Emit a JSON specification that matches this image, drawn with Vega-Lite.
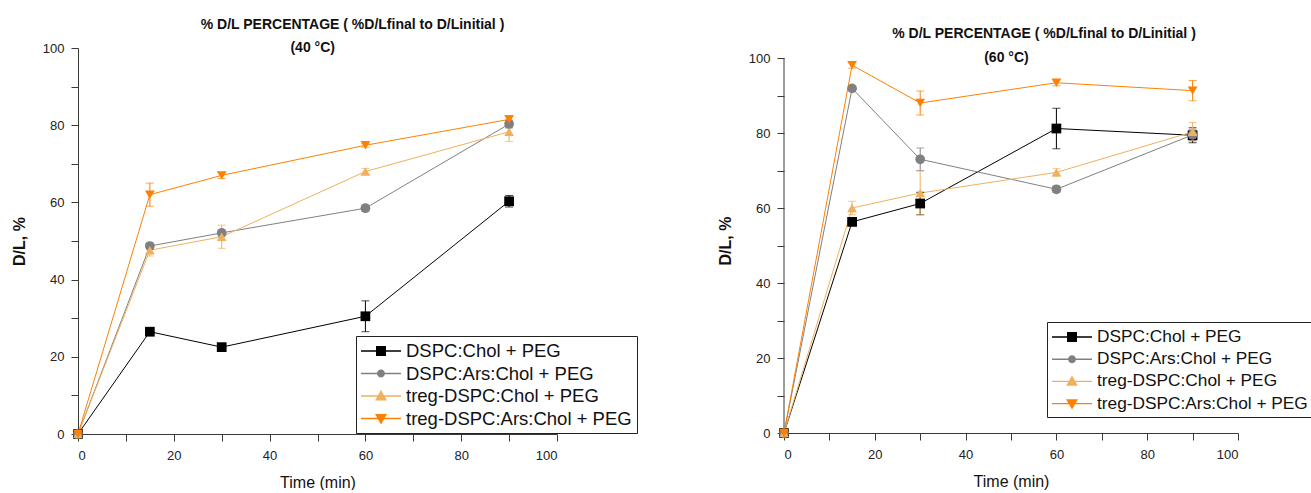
{
  "$schema": "https://vega.github.io/schema/vega-lite/v6.json",
  "padding": {"left": 11, "top": 18, "right": 0, "bottom": 0},
  "config": {
    "view": {"stroke": null},
    "font": "Liberation Sans",
    "axis": {
      "grid": false,
      "domainColor": "#3a3a3a",
      "tickColor": "#3a3a3a",
      "tickSize": 7,
      "labelPadding": 7,
      "labelFont": "Liberation Sans",
      "labelFontSize": 13,
      "labelColor": "#222",
      "titleFont": "Liberation Sans",
      "titleFontSize": 16,
      "titleFontWeight": "normal",
      "titleColor": "#111"
    },
    "legend": {
      "orient": "none",
      "title": null,
      "strokeColor": "#222",
      "fillColor": "white",
      "padding": 5,
      "labelFont": "Liberation Sans",
      "labelFontSize": 18,
      "labelColor": "#111",
      "labelLimit": 0,
      "symbolSize": 400,
      "symbolStrokeWidth": 0,
      "symbolOffset": 10,
      "labelOffset": 15,
      "rowPadding": 2.5
    },
    "title": {"font": "Liberation Sans", "fontSize": 14, "fontWeight": "bold", "color": "#111"}
  },
  "datasets": {
    "d40": [
      {"series": "DSPC:Chol + PEG", "t": 0, "v": 0, "err": null},
      {"series": "DSPC:Chol + PEG", "t": 15, "v": 26.5, "err": 1},
      {"series": "DSPC:Chol + PEG", "t": 30, "v": 22.5, "err": null},
      {"series": "DSPC:Chol + PEG", "t": 60, "v": 30.5, "err": 4},
      {"series": "DSPC:Chol + PEG", "t": 90, "v": 60.3, "err": 1.5},
      {"series": "DSPC:Ars:Chol + PEG", "t": 0, "v": 0, "err": null},
      {"series": "DSPC:Ars:Chol + PEG", "t": 15, "v": 48.7, "err": 0.8},
      {"series": "DSPC:Ars:Chol + PEG", "t": 30, "v": 52.1, "err": 0.8},
      {"series": "DSPC:Ars:Chol + PEG", "t": 60, "v": 58.5, "err": 0.8},
      {"series": "DSPC:Ars:Chol + PEG", "t": 90, "v": 80.3, "err": 1},
      {"series": "treg-DSPC:Chol + PEG", "t": 0, "v": 0, "err": null},
      {"series": "treg-DSPC:Chol + PEG", "t": 15, "v": 47.6, "err": 1.5},
      {"series": "treg-DSPC:Chol + PEG", "t": 30, "v": 51.1, "err": 3},
      {"series": "treg-DSPC:Chol + PEG", "t": 60, "v": 68, "err": 0.8},
      {"series": "treg-DSPC:Chol + PEG", "t": 90, "v": 78.3, "err": 2.5},
      {"series": "treg-DSPC:Ars:Chol + PEG", "t": 0, "v": 0, "err": null},
      {"series": "treg-DSPC:Ars:Chol + PEG", "t": 15, "v": 62, "err": 3},
      {"series": "treg-DSPC:Ars:Chol + PEG", "t": 30, "v": 67, "err": 0.8},
      {"series": "treg-DSPC:Ars:Chol + PEG", "t": 60, "v": 74.8, "err": 0.5},
      {"series": "treg-DSPC:Ars:Chol + PEG", "t": 90, "v": 81.5, "err": 1}
    ],
    "d60": [
      {"series": "DSPC:Chol + PEG", "t": 0, "v": 0, "err": null},
      {"series": "DSPC:Chol + PEG", "t": 15, "v": 56.3, "err": 1},
      {"series": "DSPC:Chol + PEG", "t": 30, "v": 61.2, "err": 3},
      {"series": "DSPC:Chol + PEG", "t": 60, "v": 81.2, "err": 5.4},
      {"series": "DSPC:Chol + PEG", "t": 90, "v": 79.4, "err": 2},
      {"series": "DSPC:Ars:Chol + PEG", "t": 0, "v": 0, "err": null},
      {"series": "DSPC:Ars:Chol + PEG", "t": 15, "v": 91.9, "err": null},
      {"series": "DSPC:Ars:Chol + PEG", "t": 30, "v": 73, "err": 3},
      {"series": "DSPC:Ars:Chol + PEG", "t": 60, "v": 65, "err": 0.8},
      {"series": "DSPC:Ars:Chol + PEG", "t": 90, "v": 79.5, "err": 1.5},
      {"series": "treg-DSPC:Chol + PEG", "t": 0, "v": 0, "err": null},
      {"series": "treg-DSPC:Chol + PEG", "t": 15, "v": 60, "err": 1.8},
      {"series": "treg-DSPC:Chol + PEG", "t": 30, "v": 64, "err": 5.8},
      {"series": "treg-DSPC:Chol + PEG", "t": 60, "v": 69.5, "err": 1},
      {"series": "treg-DSPC:Chol + PEG", "t": 90, "v": 80.3, "err": 2.5},
      {"series": "treg-DSPC:Ars:Chol + PEG", "t": 0, "v": 0, "err": null},
      {"series": "treg-DSPC:Ars:Chol + PEG", "t": 15, "v": 98.1, "err": 0.8},
      {"series": "treg-DSPC:Ars:Chol + PEG", "t": 30, "v": 88, "err": 3.2},
      {"series": "treg-DSPC:Ars:Chol + PEG", "t": 60, "v": 93.4, "err": 0.8},
      {"series": "treg-DSPC:Ars:Chol + PEG", "t": 90, "v": 91.3, "err": 2.7}
    ]
  },
  "resolve": {
    "scale": {"color": "independent", "shape": "independent"},
    "legend": {"color": "independent", "shape": "independent"}
  },
  "spacing": 79,
  "hconcat": [
    {
      "width": 479,
      "height": 386,
      "data": {"name": "d40"},
      "title": {"text": "% D/L PERCENTAGE ( %D/Lfinal to D/Linitial )", "dx": 35, "offset": 9},
      "resolve": {"scale": {"color": "independent", "shape": "independent"}},
      "encoding": {
        "x": {"field": "t", "type": "quantitative", "scale": {"domain": [0, 100], "nice": false},
          "axis": {"title": "Time (min)", "labelPadding": 8, "values": [0, 10, 20, 30, 40, 50, 60, 70, 80, 90, 100], "labelExpr": "datum.value % 20 === 0 ? datum.label : ''", "titlePadding": 12}},
        "y": {"field": "v", "type": "quantitative", "scale": {"domain": [0, 100], "nice": false},
          "axis": {"title": "D/L, %", "titleFontWeight": "bold", "values": [0, 10, 20, 30, 40, 50, 60, 70, 80, 90, 100], "labelExpr": "datum.value % 20 === 0 ? datum.label : ''", "titlePadding": 15}}
      },
      "layer": [
        {
          "mark": {"type": "line", "strokeWidth": 1},
          "encoding": {
            "color": {"field": "series", "type": "nominal", "legend": null,
              "scale": {"domain": ["DSPC:Chol + PEG", "DSPC:Ars:Chol + PEG", "treg-DSPC:Chol + PEG", "treg-DSPC:Ars:Chol + PEG"], "range": ["#000000", "#808080", "#f0b05e", "#ff8000"]}}
          }
        },
        {
          "transform": [{"filter": "datum.err > 0"}],
          "mark": {"type": "errorbar", "ticks": {"size": 8, "thickness": 1}, "rule": {"strokeWidth": 1}},
          "encoding": {
            "yError": {"field": "err"},
            "color": {"field": "series", "type": "nominal", "legend": null,
              "scale": {"domain": ["DSPC:Chol + PEG", "DSPC:Ars:Chol + PEG", "treg-DSPC:Chol + PEG", "treg-DSPC:Ars:Chol + PEG"], "range": ["#000000", "#808080", "#f0b05e", "#ff8000"]}}
          }
        },
        {
          "mark": {"type": "point", "filled": true, "opacity": 1, "size": 95},
          "encoding": {
            "color": {"field": "series", "type": "nominal", "legend": null,
              "scale": {"domain": ["DSPC:Chol + PEG", "DSPC:Ars:Chol + PEG", "treg-DSPC:Chol + PEG", "treg-DSPC:Ars:Chol + PEG"], "range": ["#000000", "#808080", "#f0b05e", "#ff8000"]}},
            "shape": {"field": "series", "type": "nominal", "legend": null,
              "scale": {"domain": ["DSPC:Chol + PEG", "DSPC:Ars:Chol + PEG", "treg-DSPC:Chol + PEG", "treg-DSPC:Ars:Chol + PEG"], "range": ["square", "circle", "triangle-up", "triangle-down"]}}
          }
        },
        {
          "transform": [{"filter": "false"}],
          "mark": {"type": "point", "filled": true, "opacity": 1},
          "encoding": {
            "color": {"field": "series", "type": "nominal",
              "legend": {"legendX": 278, "legendY": 288, "labelFontSize": 18.5},
              "scale": {"domain": ["DSPC:Chol + PEG", "DSPC:Ars:Chol + PEG", "treg-DSPC:Chol + PEG", "treg-DSPC:Ars:Chol + PEG"], "range": ["#000000", "#808080", "#f0b05e", "#ff8000"]}},
            "shape": {"field": "series", "type": "nominal",
              "legend": {"legendX": 278, "legendY": 288, "labelFontSize": 18.5},
              "scale": {"domain": ["DSPC:Chol + PEG", "DSPC:Ars:Chol + PEG", "treg-DSPC:Chol + PEG", "treg-DSPC:Ars:Chol + PEG"],
                "range": ["M-2,-0.07H2V0.07H-2ZM-0.5,-0.5H0.5V0.5H-0.5Z", "M-2,-0.07H2V0.07H-2ZM-0.4,0A0.4,0.4,0,1,1,0.4,0A0.4,0.4,0,1,1,-0.4,0Z", "M-2,-0.07H2V0.07H-2ZM0,-0.6L0.6,0.44H-0.6Z", "M-2,-0.07H2V0.07H-2ZM0,0.6L-0.6,-0.44H0.6Z"]}}
          }
        },
        {
          "transform": [{"filter": "datum.t === 0 && datum.series === 'DSPC:Chol + PEG'"}],
          "mark": {"type": "text", "fontWeight": "bold", "fontSize": 14, "font": "Liberation Sans", "baseline": "middle", "color": "#111"},
          "encoding": {"x": {"datum": 49}, "y": {"datum": 100}, "text": {"value": "(40 °C)"}}
        }
      ]
    },
    {
      "width": 454,
      "height": 385,
      "data": {"name": "d60"},
      "title": {"text": "% D/L PERCENTAGE ( %D/Lfinal to D/Linitial )", "dx": 33, "offset": 7},
      "resolve": {"scale": {"color": "independent", "shape": "independent"}},
      "encoding": {
        "x": {"field": "t", "type": "quantitative", "scale": {"domain": [0, 100], "nice": false},
          "axis": {"title": "Time (min)", "labelPadding": 8, "values": [0, 10, 20, 30, 40, 50, 60, 70, 80, 90, 100], "labelExpr": "datum.value % 20 === 0 ? datum.label : ''", "titlePadding": 12}},
        "y": {"field": "v", "type": "quantitative", "scale": {"domain": [0, 102.67], "nice": false},
          "axis": {"title": "D/L, %", "titleFontWeight": "bold", "domain": false, "values": [0, 10, 20, 30, 40, 50, 60, 70, 80, 90, 100], "labelExpr": "datum.value % 20 === 0 ? datum.label : ''", "titlePadding": 15}}
      },
      "layer": [
        {
          "transform": [{"filter": "datum.t === 0 && datum.series === 'DSPC:Chol + PEG'"}],
          "mark": {"type": "rule", "color": "#3a3a3a", "strokeWidth": 1},
          "encoding": {"x": {"datum": 0}, "y": {"datum": 0}, "y2": {"datum": 100}}
        },
        {
          "mark": {"type": "line", "strokeWidth": 1},
          "encoding": {
            "color": {"field": "series", "type": "nominal", "legend": null,
              "scale": {"domain": ["DSPC:Chol + PEG", "DSPC:Ars:Chol + PEG", "treg-DSPC:Chol + PEG", "treg-DSPC:Ars:Chol + PEG"], "range": ["#000000", "#808080", "#f0b05e", "#ff8000"]}}
          }
        },
        {
          "transform": [{"filter": "datum.err > 0"}],
          "mark": {"type": "errorbar", "ticks": {"size": 8, "thickness": 1}, "rule": {"strokeWidth": 1}},
          "encoding": {
            "yError": {"field": "err"},
            "color": {"field": "series", "type": "nominal", "legend": null,
              "scale": {"domain": ["DSPC:Chol + PEG", "DSPC:Ars:Chol + PEG", "treg-DSPC:Chol + PEG", "treg-DSPC:Ars:Chol + PEG"], "range": ["#000000", "#808080", "#f0b05e", "#ff8000"]}}
          }
        },
        {
          "mark": {"type": "point", "filled": true, "opacity": 1, "size": 95},
          "encoding": {
            "color": {"field": "series", "type": "nominal", "legend": null,
              "scale": {"domain": ["DSPC:Chol + PEG", "DSPC:Ars:Chol + PEG", "treg-DSPC:Chol + PEG", "treg-DSPC:Ars:Chol + PEG"], "range": ["#000000", "#808080", "#f0b05e", "#ff8000"]}},
            "shape": {"field": "series", "type": "nominal", "legend": null,
              "scale": {"domain": ["DSPC:Chol + PEG", "DSPC:Ars:Chol + PEG", "treg-DSPC:Chol + PEG", "treg-DSPC:Ars:Chol + PEG"], "range": ["square", "circle", "triangle-up", "triangle-down"]}}
          }
        },
        {
          "transform": [{"filter": "false"}],
          "mark": {"type": "point", "filled": true, "opacity": 1},
          "encoding": {
            "color": {"field": "series", "type": "nominal",
              "legend": {"legendX": 263, "legendY": 274, "labelFontSize": 17.3, "rowPadding": 3.2},
              "scale": {"domain": ["DSPC:Chol + PEG", "DSPC:Ars:Chol + PEG", "treg-DSPC:Chol + PEG", "treg-DSPC:Ars:Chol + PEG"], "range": ["#000000", "#808080", "#f0b05e", "#ff8000"]}},
            "shape": {"field": "series", "type": "nominal",
              "legend": {"legendX": 263, "legendY": 274, "labelFontSize": 17.3, "rowPadding": 3.2},
              "scale": {"domain": ["DSPC:Chol + PEG", "DSPC:Ars:Chol + PEG", "treg-DSPC:Chol + PEG", "treg-DSPC:Ars:Chol + PEG"],
                "range": ["M-2,-0.07H2V0.07H-2ZM-0.5,-0.5H0.5V0.5H-0.5Z", "M-2,-0.07H2V0.07H-2ZM-0.4,0A0.4,0.4,0,1,1,0.4,0A0.4,0.4,0,1,1,-0.4,0Z", "M-2,-0.07H2V0.07H-2ZM0,-0.6L0.6,0.44H-0.6Z", "M-2,-0.07H2V0.07H-2ZM0,0.6L-0.6,-0.44H0.6Z"]}}
          }
        },
        {
          "transform": [{"filter": "datum.t === 0 && datum.series === 'DSPC:Chol + PEG'"}],
          "mark": {"type": "text", "fontWeight": "bold", "fontSize": 14, "font": "Liberation Sans", "baseline": "middle", "color": "#111"},
          "encoding": {"x": {"datum": 49}, "y": {"datum": 100}, "text": {"value": "(60 °C)"}}
        }
      ]
    }
  ]
}
